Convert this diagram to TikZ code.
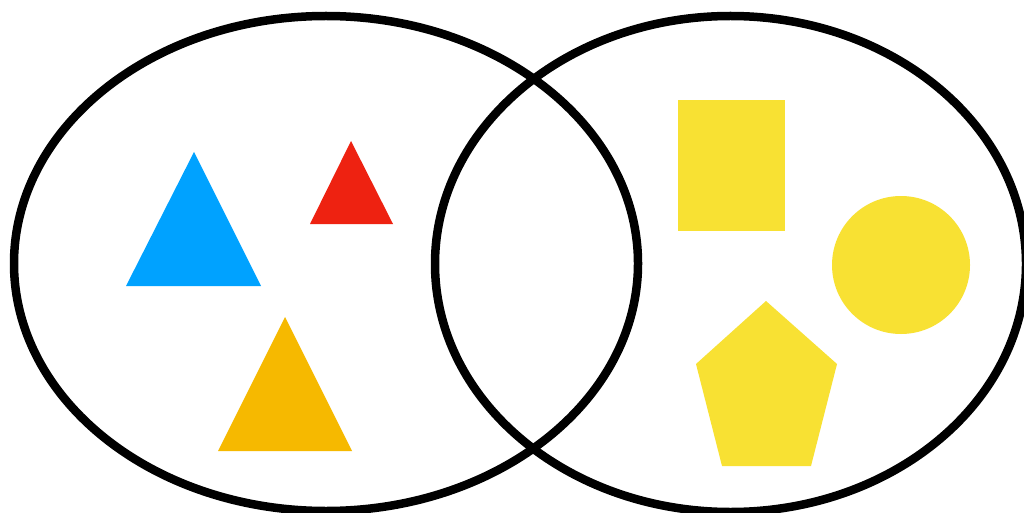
\documentclass[tikz,border=0pt]{standalone}
\begin{document}
\begin{tikzpicture}[x=1pt,y=-1pt,
  ring/.style={draw=black,line width=8.5pt}]
\definecolor{cblue}{RGB}{0,162,255}
\definecolor{cred}{RGB}{238,34,17}
\definecolor{corange}{RGB}{246,185,0}
\definecolor{cyellow}{RGB}{248,225,51}
\useasboundingbox (0,0) rectangle (1024,513);
\clip (0,0) rectangle (1024,513);
\fill[white] (0,0) rectangle (1024,513);
% shapes
\fill[cblue] (194,152) -- (261,286) -- (126,286) -- cycle;
\fill[cred] (351,141) -- (393,224) -- (310,224) -- cycle;
\fill[corange] (285,317) -- (352,451) -- (218,451) -- cycle;
\fill[cyellow] (678,100) rectangle (785,231);
\fill[cyellow] (901,265) circle (69);
\fill[cyellow] (766,301) -- (837,364) -- (811,466) -- (722,466) -- (696,364) -- cycle;
% rings
\draw[ring] (326,263.5) ellipse [x radius=312, y radius=247.5];
\draw[ring] (730.5,264) ellipse [x radius=295.5, y radius=248];
\end{tikzpicture}
\end{document}
